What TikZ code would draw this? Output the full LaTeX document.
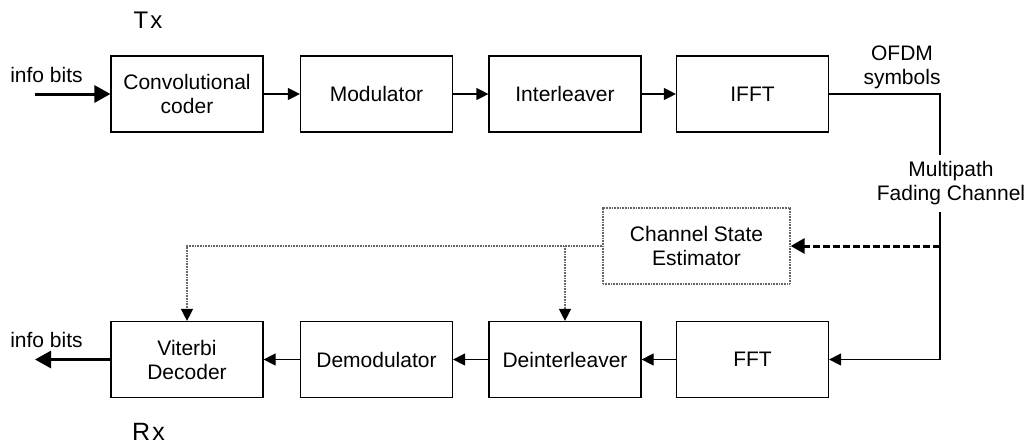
\documentclass[tikz,border=0pt]{standalone}
\usepackage{fontspec}
\setmainfont{Liberation Sans}
\usetikzlibrary{arrows.meta}
\begin{document}
\begin{tikzpicture}[x=1pt,y=-1pt,
  every node/.style={font=\fontsize{21}{24}\selectfont},
  blk/.style={draw,line width=1.2pt,minimum width=152pt,minimum height=76pt,inner sep=0pt,align=center},
  dblk/.style={draw=black!60,dash pattern=on 1pt off 0.6pt,line width=1.3pt,minimum width=187pt,minimum height=76pt,inner sep=0pt,align=center},
  conn/.style={line width=1.2pt},
  arr/.style={line width=1.2pt,-{Triangle[length=12pt,width=12pt]}},
  thk/.style={line width=3pt,-{Triangle[length=16pt,width=17pt]}},
  dotl/.style={draw=black!60,dash pattern=on 1pt off 0.6pt,line width=1.3pt,-{Triangle[length=12pt,width=12pt,color=black,fill=black]}},
  lbl/.style={inner sep=0pt,align=center}]
\useasboundingbox (0,0) rectangle (1028,447);
% top row
\node[blk] (conv) at (187,94) {Convolutional\\coder};
\node[blk] (mod)  at (376.5,94) {Modulator};
\node[blk] (intl) at (565,94) {Interleaver};
\node[blk] (ifft) at (752.5,94) {IFFT};
% bottom row
\node[blk] (vit)   at (187,359.5) {Viterbi\\Decoder};
\node[blk] (demod) at (376.5,359.5) {Demodulator};
\node[blk] (deint) at (565,359.5) {Deinterleaver};
\node[blk] (fft)   at (752.5,359.5) {FFT};
\node[dblk] (cse)  at (696.5,246) {Channel State\\Estimator};
% labels
\node[lbl,font=\fontsize{24}{28}\selectfont] (tx) at (148,20) {T\kern2pt x};
\node[lbl,font=\fontsize{25}{28}\selectfont] (rx) at (148.5,432) {R\kern2pt x};
\node[lbl] (ib1) at (46.5,75) {info bits};
\node[lbl] (ib2) at (46.5,340) {info bits};
\node[lbl] (ofdm) at (902,67) {OFDM\\symbols};
\node[lbl] (mfc) at (951,183) {Multipath\\Fading Channel};
% coordinates
\coordinate (in) at (35,94);
\coordinate (out) at (35,359.5);
\coordinate (c1) at (940,94);
\coordinate (c2) at (940,155);
\coordinate (c3) at (940,212);
\coordinate (c4) at (940,359.5);
\coordinate (dj) at (940,246);
% connectors
\draw[thk] (in) -- (conv.west);
\draw[arr] (conv) -- (mod);
\draw[arr] (mod) -- (intl);
\draw[arr] (intl) -- (ifft);
\draw[conn] (ifft.east) -- (c1) -- (c2);
\draw[arr] (c3) -- (c4) -- (fft.east);
\draw[arr] (fft) -- (deint);
\draw[arr] (deint) -- (demod);
\draw[arr] (demod) -- (vit);
\draw[thk] (vit.west) -- (out);
\draw[line width=3pt,dash pattern=on 7pt off 3pt,-{Triangle[length=14pt,width=15pt]}] (dj) -- (cse.east);
\draw[dotl] (cse.west) -| (vit.north);
\draw[dotl] (cse.west -| deint.north) -- (deint.north);
\end{tikzpicture}
\end{document}
